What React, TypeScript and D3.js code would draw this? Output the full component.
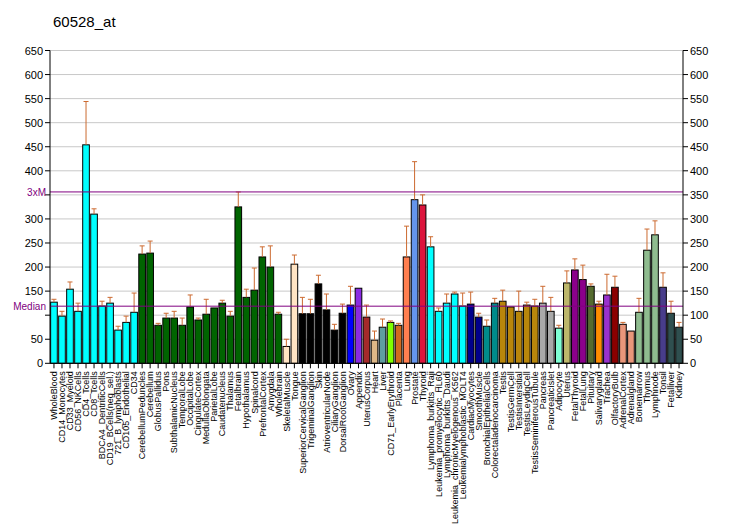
import { useMemo } from 'react'
import { scaleBand, scaleLinear } from 'd3'

const TITLE = '60528_at'

const CATEGORIES = [
  'WholeBlood', 'CD14_Monocytes', 'CD33_Myeloid', 'CD56_NKCells', 'CD4_Tcells', 'CD8_Tcells',
  'BDCA4_DentriticCells', 'CD19_BCells(neg_sel.)', '721_B_lymphoblasts', 'CD105_Endothelial', 'CD34',
  'CerebellumPeduncles', 'Cerebellum', 'GlobusPallidus', 'Pons', 'SubthalamicNucleus', 'TemporalLobe',
  'OccipitalLobe', 'CingulateCortex', 'MedullaOblongata', 'ParietalLobe', 'Caudatenucleus', 'Thalamus',
  'Fetalbrain', 'Hypothalamus', 'Spinalcord', 'PrefrontalCortex', 'Amygdala', 'Wholebrain',
  'SkeletalMuscle', 'Tongue', 'SuperiorCervicalGanglion', 'TrigeminalGanglion', 'Skin',
  'AtrioventricularNode', 'CiliaryGanglion', 'DorsalRootGanglion', 'Ovary', 'Appendix', 'UterusCorpus',
  'Heart', 'Liver', 'CD71_EarlyErythroid', 'Placenta', 'Lung', 'Prostate', 'Thyroid',
  'Lymphoma_burkitts_Raji', 'Leukemia_promyelocytic_HL60', 'Lymphoma_burkitts_Daudi',
  'Leukemia_chronicMyelogenous_K562', 'Leukemialymphoblastic_MOLT4', 'CardiacMyocytes', 'SmoothMuscle',
  'BronchialEpithelialCells', 'Colorectaladenocarcinoma', 'Testis', 'TestisGermCell', 'TestisIntersitial',
  'TestisLeydigCell', 'TestisSeminiferousTubule', 'Pancreas', 'PancreaticIslet', 'Adipocyte', 'Uterus',
  'FetalThyroid', 'FetalLung', 'Pituitary', 'Salivarygland', 'Trachea', 'OlfactoryBulb', 'AdrenalCortex',
  'Adrenalgland', 'Bonemarrow', 'Thymus', 'Lymphnode', 'Tonsil', 'Fetalliver', 'Kidney',
]

const VALUES = [
  127, 98, 154, 108, 454, 310, 119, 125, 69, 85, 106,
  227, 229, 79, 94, 94, 79, 117, 90, 102, 115, 125, 98,
  325, 137, 152, 221, 200, 102,
  35, 206, 103, 103, 165, 111, 69, 104, 121, 156, 96,
  48, 75, 85, 79, 221, 340, 329,
  242, 108, 125, 144, 119, 123, 96,
  77, 125, 129, 117, 108, 121, 119, 125, 108, 73, 167,
  194, 174, 160, 123, 142, 158, 81, 67, 106, 235, 267, 158, 104, 75,
]

// upper end of each error bar (null = none drawn)
const ERR_TOP: (number | null)[] = [
  133, 108, 169, 125, 544, 321, 129, 137, 77, 98, 146,
  244, 254, 83, 104, 108, 94, 142, 94, 133, null, 131, 108,
  356, 154, 198, 242, 244, 106,
  50, 225, 137, 133, 183, 144, 81, 123, 160, null, 121,
  67, 92, 88, 83, 285, 419, 350,
  263, 115, 144, 148, 146, 148, 104,
  90, 135, 152, null, 150, 127, 133, 160, 137, 79, 192,
  217, 204, 165, 129, 185, 181, 85, null, 135, 279, 296, 188, 129, 85,
]

const COLORS = [
  ...Array(11).fill('#00FFFF'),
  ...Array(18).fill('#006400'),
  '#FFE4C4', '#FFE4C4',
  ...Array(6).fill('#000000'),
  '#0000FF', '#8A2BE2', '#A52A2A', '#DEB887', '#5F9EA0', '#7FFF00', '#D2691E', '#FF7F50', '#6495ED', '#DC143C',
  ...Array(5).fill('#00FFFF'),
  '#00008B', '#00008B', '#008B8B', '#008B8B',
  ...Array(5).fill('#B8860B'),
  '#A9A9A9', '#A9A9A9', '#7FFFD4', '#BDB76B', '#8B008B', '#8B008B', '#556B2F', '#FF8C00', '#9932CC', '#8B0000',
  '#E9967A', '#E9967A', '#8FBC8F', '#8FBC8F', '#8FBC8F', '#483D8B', '#2F4F4F', '#2F4F4F',
]

const Y_TICKS = [0, 50, 100, 150, 200, 250, 300, 350, 400, 450, 500, 550, 600, 650]
// left labels hidden behind the 3xM / Median markers
const LEFT_HIDDEN = [100, 350]
const MEDIAN = 118.7

const FONT = 'Arial, "Liberation Sans", sans-serif'

export default function App() {
  const left = 50
  const right = 683
  const top = 50.5
  const bottom = 363.3

  const { x, y } = useMemo(() => {
    const x = scaleBand<string>().domain(CATEGORIES).range([left, right]).paddingInner(0.17).paddingOuter(0.08)
    const y = scaleLinear().domain([0, 650]).range([bottom, top])
    return { x, y }
  }, [])

  const bw = x.bandwidth()

  return (
    <svg
      width={732}
      height={530}
      style={{ position: 'absolute', left: 0, top: 0, background: '#fff' }}
      fontFamily={FONT}
    >
      <text x={53} y={26.5} fontSize={15}>{TITLE}</text>

      {Y_TICKS.map((t) => (
        <g key={t}>
          {t > 0 && <line x1={left} x2={right} y1={y(t)} y2={y(t)} stroke="#C8C8C8" strokeWidth={1} />}
          <line x1={left - 5} x2={left} y1={y(t)} y2={y(t)} stroke="#000" />
          <line x1={right} x2={right + 5} y1={y(t)} y2={y(t)} stroke="#000" />
          {!LEFT_HIDDEN.includes(t) && (
            <text x={left - 7} y={y(t) + 4} fontSize={11} textAnchor="end">{t}</text>
          )}
          <text x={right + 7} y={y(t) + 4} fontSize={11}>{t}</text>
        </g>
      ))}

      {CATEGORIES.map((c, i) => {
        const bx = x(c)!
        const cx = bx + bw / 2
        const e = ERR_TOP[i]
        return (
          <g key={c}>
            <rect
              x={bx}
              y={y(VALUES[i])}
              width={bw}
              height={y(0) - y(VALUES[i])}
              fill={COLORS[i]}
              stroke="#000"
              strokeWidth={1}
            />
            {e !== null && (
              <g stroke="#CC6A30" strokeWidth={1}>
                <line x1={cx} x2={cx} y1={y(VALUES[i])} y2={y(e)} />
                <line x1={cx - 2.5} x2={cx + 2.5} y1={y(e)} y2={y(e)} />
              </g>
            )}
            <line x1={cx} x2={cx} y1={bottom} y2={bottom + 5} stroke="#000" />
            <text
              transform={`translate(${cx + 3.2},${bottom + 8}) rotate(-90)`}
              fontSize={9}
              textAnchor="end"
            >
              {c}
            </text>
          </g>
        )
      })}

      <line x1={left} x2={right} y1={y(MEDIAN * 3)} y2={y(MEDIAN * 3)} stroke="#800080" strokeWidth={1} />
      <line x1={left} x2={right} y1={y(MEDIAN)} y2={y(MEDIAN)} stroke="#800080" strokeWidth={1} />
      <text x={left - 4} y={y(MEDIAN * 3) + 4} fontSize={10} textAnchor="end" fill="#800080">3xM</text>
      <text x={left - 4} y={y(MEDIAN) + 4} fontSize={10} textAnchor="end" fill="#800080">Median</text>

      <line x1={left} x2={left} y1={top} y2={bottom} stroke="#000" />
      <line x1={right} x2={right} y1={top} y2={bottom} stroke="#000" />
      <line x1={left} x2={right} y1={bottom} y2={bottom} stroke="#000" />
    </svg>
  )
}
